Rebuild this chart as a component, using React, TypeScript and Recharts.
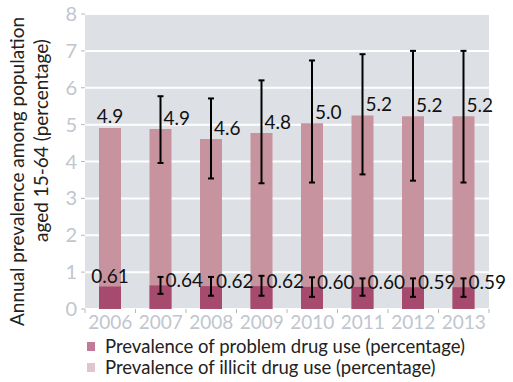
import React from 'react';
import { BarChart, Bar, XAxis, YAxis, CartesianGrid, ErrorBar, LabelList, Legend } from 'recharts';

const years = ['2006', '2007', '2008', '2009', '2010', '2011', '2012', '2013'];
const illicit = [4.91, 4.88, 4.61, 4.77, 5.04, 5.25, 5.23, 5.23];
const illicitLabels = ['4.9', '4.9', '4.6', '4.8', '5.0', '5.2', '5.2', '5.2'];
const illicitLow = [null, 3.96, 3.54, 3.41, 3.43, 3.65, 3.48, 3.43];
const illicitHigh = [null, 5.77, 5.71, 6.2, 6.74, 6.91, 7.0, 7.0];
const problem = [0.61, 0.64, 0.62, 0.62, 0.6, 0.6, 0.59, 0.59];
const problemLabels = ['0.61', '0.64', '0.62', '0.62', '0.60', '0.60', '0.59', '0.59'];
const problemLow = [null, 0.41, 0.36, 0.36, 0.33, 0.36, 0.33, 0.33];
const problemHigh = [null, 0.87, 0.87, 0.9, 0.86, 0.83, 0.83, 0.83];
const yTicks = [0, 1, 2, 3, 4, 5, 6, 7, 8];
const legendNames = [
  'Prevalence of problem drug use (percentage)',
  'Prevalence of illicit drug use (percentage)',
];

const FONT = 'Lato, "Open Sans", sans-serif';
const AXIS_GRAY = '#bfc6ce';
const LIGHT = '#c7939f';
const DARK = '#a64a6e';

const data = years.map((year, i) => ({
  year,
  illicit: illicit[i],
  problem: problem[i],
  illicitLabel: illicitLabels[i],
  problemLabel: problemLabels[i],
  illicitErr:
    illicitLow[i] == null ? null : [illicit[i] - (illicitLow[i] as number), (illicitHigh[i] as number) - illicit[i]],
  problemErr:
    problemLow[i] == null ? null : [problem[i] - (problemLow[i] as number), (problemHigh[i] as number) - problem[i]],
}));

const makeLabel = (labels: string[], firstDy: number, otherDy: number, dxOther: number) => (props: any) => {
  const { x, y, width, index } = props;
  const cx = x + width / 2;
  if (index === 0) {
    return (
      <text x={cx} y={y + firstDy} textAnchor="middle" fontSize={19} fontFamily={FONT} fill="#111">
        {labels[index]}
      </text>
    );
  }
  return (
    <text x={cx + dxOther} y={y + otherDy} textAnchor="start" fontSize={19} fontFamily={FONT} fill="#111">
      {labels[index]}
    </text>
  );
};

const XTick = (props: any) => {
  const { x, y, payload, index, visibleTicksCount } = props;
  const half = payload && payload.offset ? payload.offset : 0;
  const axisY = y - 2;
  return (
    <g>
      <line x1={x - half} y1={axisY} x2={x - half} y2={axisY + 4} stroke="#b8b8b8" strokeWidth={1} />
      {index === visibleTicksCount - 1 ? (
        <line x1={x + half} y1={axisY} x2={x + half} y2={axisY + 4} stroke="#b8b8b8" strokeWidth={1} />
      ) : null}
      <text x={x} y={y + 18} textAnchor="middle" fontSize={19} fontFamily={FONT} fill={AXIS_GRAY}>
        {payload.value}
      </text>
    </g>
  );
};

const YTitle = (props: any) => {
  const { viewBox } = props;
  const { x, y, height } = viewBox;
  const cy = y + height / 2;
  return (
    <g fontFamily={FONT} fontSize={19} fill="#222">
      <text transform={`translate(${x + 24},${cy + 10}) rotate(-90)`} textAnchor="middle">
        Annual prevalence among population
      </text>
      <text transform={`translate(${x + 48},${cy - 21}) rotate(-90)`} textAnchor="middle">
        aged 15-64 (percentage)
      </text>
    </g>
  );
};

const LegendContent = () => (
  <div style={{ height: 44, paddingLeft: 87, fontFamily: FONT, fontSize: 18.5, color: '#222', lineHeight: '21px', paddingTop: 1 }}>
    <div style={{ display: 'flex', alignItems: 'center', height: 21, whiteSpace: 'nowrap' }}>
      <span style={{ display: 'inline-block', width: 8, height: 9, background: '#c27a98', marginRight: 10 }} />
      {legendNames[0]}
    </div>
    <div style={{ display: 'flex', alignItems: 'center', height: 21, whiteSpace: 'nowrap' }}>
      <span style={{ display: 'inline-block', width: 8, height: 9, background: '#e0c6cc', marginRight: 10 }} />
      {legendNames[1]}
    </div>
  </div>
);

export default function App() {
  return (
    <div style={{ position: 'absolute', left: 0, top: 0 }}>
      <BarChart width={513} height={382} data={data} margin={{ top: 14, right: 24, left: 0, bottom: 2 }}>
        <CartesianGrid vertical={false} fill="#dde1e5" stroke="#ffffff" strokeWidth={2} />
        <XAxis
          xAxisId="main"
          dataKey="year"
          height={26}
          axisLine={false}
          tickLine={false}
          tickSize={0}
          tickMargin={2}
          tick={<XTick />}
          interval={0}
        />
        <XAxis xAxisId="over" dataKey="year" hide />
        <YAxis
          width={85}
          domain={[0, 8]}
          ticks={yTicks}
          interval={0}
          axisLine={false}
          tickSize={4}
          tickMargin={4}
          tickLine={{ stroke: '#b8b8b8' }}
          tick={{ fontSize: 20, fill: AXIS_GRAY, fontFamily: FONT }}
          label={{ content: <YTitle /> }}
        />
        <Legend verticalAlign="bottom" align="left" content={<LegendContent />} />
        <Bar xAxisId="main" dataKey="illicit" name={legendNames[1]} fill={LIGHT} barSize={22} isAnimationActive={false}>
          <ErrorBar dataKey="illicitErr" width={3} stroke="#000" strokeWidth={2} />
          <LabelList dataKey="illicitLabel" content={makeLabel(illicitLabels, -5, -4, 3)} />
        </Bar>
        <Bar xAxisId="over" dataKey="problem" name={legendNames[0]} fill={DARK} barSize={22} isAnimationActive={false}>
          <ErrorBar dataKey="problemErr" width={3} stroke="#000" strokeWidth={2} />
          <LabelList dataKey="problemLabel" content={makeLabel(problemLabels, -4, 2, 5)} />
        </Bar>
      </BarChart>
    </div>
  );
}
